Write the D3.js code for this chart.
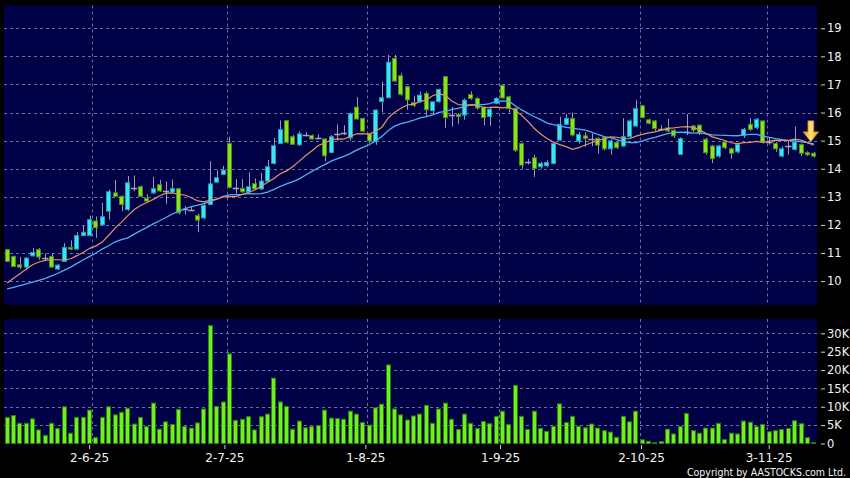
<!DOCTYPE html>
<html>
<head>
<meta charset="utf-8">
<script src="https://cdn.jsdelivr.net/npm/d3@7"></script>
<style>
  body { margin: 0; background: #000; }
  svg { display: block; }
</style>
</head>
<body>
<svg id="chart" width="850" height="478"></svg>
<script>
// daily candles, oldest first (HKD)
var opens = [11.12,10.88,10.58,10.50,10.90,11.12,10.83,10.88,10.43,10.70,
  11.20,11.14,11.62,11.62,12.14,12.00,12.49,13.14,13.02,12.55,
  13.32,13.36,12.95,13.14,13.43,13.20,13.17,13.29,12.55,12.52,
  12.33,12.25,12.73,13.52,13.80,14.90,13.30,13.30,13.18,13.47,
  13.28,13.56,14.19,14.90,15.71,15.14,14.85,15.20,15.18,15.10,
  15.06,14.58,15.24,15.26,15.10,16.19,15.79,15.24,14.96,16.39,
  16.53,17.93,17.31,16.92,16.35,16.39,16.68,16.07,16.39,17.28,
  15.90,15.93,15.91,16.64,16.50,16.19,15.86,16.33,16.97,16.56,
  16.15,14.90,14.25,14.39,14.07,14.11,14.19,15.02,15.58,15.79,
  14.98,15.17,15.05,15.08,15.11,14.71,14.93,14.81,15.14,15.52,
  16.24,15.74,15.70,15.42,15.45,15.37,14.51,15.30,15.52,15.55,
  15.05,14.81,14.45,14.95,14.71,14.60,15.19,15.58,15.46,15.70,
  14.95,14.90,14.45,14.81,14.69,14.86,14.57,14.55];
var highs = [11.15,10.90,10.86,10.86,11.18,11.18,10.98,11.00,10.60,11.35,
  11.45,11.74,11.98,12.33,12.30,12.79,13.26,13.60,13.05,13.74,
  13.76,13.40,13.10,13.71,13.60,13.55,13.62,13.30,12.67,12.64,
  12.40,12.75,14.27,13.95,14.10,15.14,13.63,13.63,13.87,13.66,
  13.85,14.31,15.10,15.72,15.72,15.20,15.33,15.30,15.22,15.22,
  15.08,15.20,15.58,15.55,16.00,16.55,15.82,15.26,16.10,17.10,
  18.05,18.05,17.40,16.95,16.60,16.75,16.75,16.40,16.85,17.30,
  16.20,15.98,16.50,16.75,16.55,16.20,16.20,16.55,17.00,16.60,
  16.18,14.92,14.35,14.50,14.25,14.30,14.95,15.85,15.95,16.00,
  15.30,15.30,15.25,15.12,15.15,15.05,14.98,15.80,15.75,16.44,
  16.28,15.78,15.73,15.55,15.78,15.40,15.12,15.95,15.55,15.58,
  15.10,14.85,14.85,15.00,14.75,14.90,15.45,15.80,15.80,15.72,
  15.10,14.95,14.80,15.00,15.50,14.90,14.62,14.60];
var lows = [10.68,10.50,10.43,10.40,10.88,10.76,10.72,10.48,10.40,10.68,
  11.10,11.12,11.60,11.60,11.54,11.98,12.19,13.00,12.49,12.50,
  13.20,13.00,12.80,13.10,13.18,12.75,13.15,12.37,12.37,12.50,
  11.74,12.20,12.70,13.50,13.78,13.30,13.12,13.15,13.15,13.25,
  13.25,13.54,14.15,14.88,14.90,14.85,14.82,15.15,15.04,15.05,
  14.27,14.55,15.00,15.20,15.00,15.75,15.30,14.90,14.85,16.00,
  16.50,17.10,16.60,16.10,16.20,16.35,15.85,15.95,16.35,15.46,
  15.50,15.60,15.75,16.45,16.10,15.55,15.53,16.30,16.50,16.00,
  14.60,14.00,14.15,13.71,14.00,14.05,14.15,15.00,15.55,15.15,
  14.90,14.78,14.80,14.54,14.65,14.50,14.70,14.78,15.10,15.50,
  15.80,15.58,15.35,15.35,15.30,15.10,14.50,15.20,15.30,15.20,
  14.50,14.20,14.40,14.70,14.35,14.55,15.10,15.35,15.40,14.90,
  14.85,14.60,14.40,14.50,14.65,14.45,14.45,14.40];
var closes = [10.70,10.52,10.50,10.82,11.02,10.86,10.83,10.50,10.57,11.20,
  11.14,11.62,11.74,12.19,11.90,12.29,13.18,13.02,12.73,13.50,
  13.32,13.02,12.85,13.29,13.21,13.20,13.29,12.43,12.55,12.52,
  12.17,12.69,13.46,13.68,13.95,13.34,13.30,13.18,13.36,13.28,
  13.56,14.07,14.82,15.39,14.94,14.87,15.24,15.20,15.06,15.10,
  14.46,15.14,15.24,15.26,15.96,15.77,15.34,14.99,16.09,16.53,
  17.79,17.12,16.65,16.45,16.26,16.62,16.10,16.38,16.82,15.82,
  15.90,15.86,16.44,16.50,16.16,15.82,16.12,16.50,16.52,16.14,
  14.66,14.13,14.25,14.01,14.19,14.22,14.90,15.58,15.79,15.20,
  15.22,15.08,15.05,14.84,14.71,14.99,14.75,15.14,15.70,16.14,
  15.82,15.62,15.43,15.42,15.35,15.17,15.07,15.30,15.38,15.29,
  14.57,14.36,14.81,14.75,14.55,14.87,15.40,15.40,15.76,14.95,
  14.95,14.71,14.71,14.81,14.95,14.55,14.50,14.45];

// volume in thousands of shares
var volumes = [7.1,7.6,5.5,5.5,6.7,3.7,2.2,5.5,4.1,10.0,
  2.8,7.1,7.1,9.1,1.6,7.1,10.0,7.8,8.5,9.6,
  5.3,7.1,4.6,11.0,3.9,5.9,5.2,9.3,4.6,4.2,
  5.6,9.4,32.1,10.1,11.3,24.4,6.3,6.6,7.3,3.7,
  7.3,8.0,17.8,11.3,10.1,3.9,6.1,4.3,4.6,4.9,
  9.1,6.9,6.8,6.6,8.8,8.0,5.7,5.0,9.7,10.7,
  21.4,9.4,7.8,6.4,7.5,8.0,10.4,5.5,9.4,11.0,
  6.6,3.8,8.0,5.5,4.1,6.0,5.4,7.4,8.8,5.2,
  15.8,7.4,3.8,8.8,4.1,3.3,4.7,10.8,5.7,7.4,
  4.7,4.3,5.3,4.2,3.5,3.1,1.7,7.4,5.9,8.8,
  1.0,0.6,0.2,0.5,3.9,2.6,4.6,8.2,3.5,2.8,
  4.2,4.2,5.5,1.1,2.8,2.6,6.1,5.8,4.6,5.2,
  3.2,3.5,3.8,4.1,6.2,5.4,1.6,0.2];

var ma10Head = [9.93,10.10,10.26,10.42,10.58,10.68,10.74,10.76,10.76];
var ma20Head = [9.72,9.78,9.84,9.90,9.96,10.03,10.10,10.19,10.28,10.39,
  10.50,10.63,10.76,10.88,11.00,11.15,11.26,11.40,11.48];

var priceTicks = [10,11,12,13,14,15,16,17,18,19];
var volTicks = [0,5,10,15,20,25,30];
var dateLabels = ["2-6-25","2-7-25","1-8-25","1-9-25","2-10-25","3-11-25"];
var dateIdx = [12.9, 34.2, 56.4, 77.6, 99.8, 119.9];
var gridIdx = [13.4, 34.6, 56.6, 77.5, 99.6, 119.6];

var svg = d3.select("#chart");
var panelBg = "#000046",
    gridColor = "#6e6e9e",
    upColor = "#3ae6f5", upEdge = "#1d9fb0",
    downColor = "#86e51e", downEdge = "#4d8f12",
    wickColor = "#9a9ab0";

var n = closes.length;
var x = d3.scaleLinear().domain([-0.5, n - 0.5]).range([4, 817]);
var y = d3.scaleLinear().domain([9.15, 19.81]).range([305, 5.5]);
var yv = d3.scaleLinear().domain([0, 33.9]).range([443.5, 319]);
var step = x(1) - x(0), bw = step * 0.82;

// moving averages
function sma(len, head) {
  return closes.map(function(c, i) {
    if (i < len - 1) return head[i];
    return d3.mean(closes.slice(i - len + 1, i + 1));
  });
}
var ma10 = sma(10, ma10Head), ma20 = sma(20, ma20Head);

// panels
svg.append("rect").attr("x", 4).attr("y", 5.5).attr("width", 813).attr("height", 299.5).attr("fill", panelBg);
svg.append("rect").attr("x", 4).attr("y", 319).attr("width", 813).attr("height", 124.5).attr("fill", panelBg);

var grid = svg.append("g").attr("stroke", gridColor).attr("stroke-width", 1)
  .attr("stroke-dasharray", "3,3").attr("fill", "none");
grid.selectAll(".hp").data(priceTicks).enter().append("line")
  .attr("x1", 4).attr("x2", 817)
  .attr("y1", function(d) { return Math.round(y(d)) + 0.5; })
  .attr("y2", function(d) { return Math.round(y(d)) + 0.5; });
grid.selectAll(".hv").data(volTicks.slice(1)).enter().append("line")
  .attr("x1", 4).attr("x2", 817)
  .attr("y1", function(d) { return Math.round(yv(d)) + 0.5; })
  .attr("y2", function(d) { return Math.round(yv(d)) + 0.5; });
gridIdx.forEach(function(d) {
  var gx = Math.round(x(d)) + 0.5;
  grid.append("line").attr("x1", gx).attr("x2", gx).attr("y1", 5.5).attr("y2", 305);
  grid.append("line").attr("x1", gx).attr("x2", gx).attr("y1", 319).attr("y2", 443.5);
});

// candles
var idx = d3.range(n);
var cg = svg.append("g");
cg.selectAll(".wick").data(idx).enter().append("line")
  .attr("x1", function(i) { return Math.round(x(i)) + 0.5; })
  .attr("x2", function(i) { return Math.round(x(i)) + 0.5; })
  .attr("y1", function(i) { return y(highs[i]); })
  .attr("y2", function(i) { return y(lows[i]); })
  .attr("stroke", wickColor).attr("stroke-width", 1);

cg.selectAll(".body").data(idx.filter(function(i) { return opens[i] !== closes[i]; })).enter().append("rect")
  .attr("x", function(i) { return Math.round(x(i) - bw / 2) + 0.5; })
  .attr("width", Math.round(bw) - 1)
  .attr("y", function(i) { return y(Math.max(opens[i], closes[i])); })
  .attr("height", function(i) { return Math.max(1.5, Math.abs(y(opens[i]) - y(closes[i]))); })
  .attr("fill", function(i) { return closes[i] > opens[i] ? upColor : downColor; })
  .attr("stroke", function(i) { return closes[i] > opens[i] ? upEdge : downEdge; })
  .attr("stroke-width", 1);

cg.selectAll(".doji").data(idx.filter(function(i) { return opens[i] === closes[i]; })).enter().append("line")
  .attr("x1", function(i) { return x(i) - bw / 2 - 0.5; })
  .attr("x2", function(i) { return x(i) + bw / 2 + 0.5; })
  .attr("y1", function(i) { return Math.round(y(closes[i])) + 0.5; })
  .attr("y2", function(i) { return Math.round(y(closes[i])) + 0.5; })
  .attr("stroke", "#a8a8b8").attr("stroke-width", 1.5);

// moving average lines
var line = d3.line().x(function(d, i) { return x(i); }).y(function(d) { return y(d); });
svg.append("path").datum(ma20).attr("d", line).attr("fill", "none")
  .attr("stroke", "#4fb0ee").attr("stroke-width", 1.3);
svg.append("path").datum(ma10).attr("d", line).attr("fill", "none")
  .attr("stroke", "#e39463").attr("stroke-width", 1.2);

// volume bars
svg.append("g").selectAll("rect").data(volumes).enter().append("rect")
  .attr("x", function(d, i) { return Math.round(x(i) - bw / 2) + 0.5; })
  .attr("width", Math.round(bw) - 1)
  .attr("y", function(d) { return yv(d); })
  .attr("height", function(d) { return yv(0) - yv(d); })
  .attr("fill", "#6cf020").attr("stroke", "#2f7d0a").attr("stroke-width", 1);

// latest marker arrow
var defs = svg.append("defs");
var grad = defs.append("linearGradient").attr("id", "arrowGrad");
grad.append("stop").attr("offset", "0%").attr("stop-color", "#e29a00");
grad.append("stop").attr("offset", "50%").attr("stop-color", "#ffe27a");
grad.append("stop").attr("offset", "100%").attr("stop-color", "#e29a00");
var ax = x(n - 1) - 3, tip = y(ma20[n - 1]) - 2;
svg.append("path")
  .attr("d", "M" + (ax - 3) + "," + (tip - 21) + "h6v11h5l-8,10l-8,-10h5z")
  .attr("fill", "url(#arrowGrad)").attr("stroke", "#c07800").attr("stroke-width", 0.6);

// axes
var axisFont = "'DejaVu Sans', Verdana, sans-serif";
function styleAxis(g, size) {
  g.select(".domain").remove();
  g.selectAll("line").attr("stroke", "#cfcfcf");
  g.selectAll("text").attr("fill", "#f2f2f2").style("font-family", axisFont).style("font-size", size);
}
svg.append("g").attr("transform", "translate(821,0)")
  .call(d3.axisRight(y).tickValues(priceTicks).tickSize(4).tickPadding(2).tickFormat(d3.format("d")))
  .call(styleAxis, "11.5px");
svg.append("g").attr("transform", "translate(821,0)")
  .call(d3.axisRight(yv).tickValues(volTicks).tickSize(4).tickPadding(2)
    .tickFormat(function(d) { return d === 0 ? "0" : d + "K"; }))
  .call(styleAxis, "11.5px");
svg.append("g").attr("transform", "translate(0,445)")
  .call(d3.axisBottom(x).tickValues(dateIdx).tickSize(4).tickPadding(4)
    .tickFormat(function(d, i) { return dateLabels[i]; }))
  .call(styleAxis, "12px");

svg.append("text").attr("x", 846).attr("y", 475.5).attr("text-anchor", "end")
  .attr("fill", "#f2f2f2").style("font-family", "'DejaVu Sans Condensed', 'DejaVu Sans', sans-serif")
  .style("font-size", "10px")
  .attr("textLength", 159).attr("lengthAdjust", "spacingAndGlyphs")
  .text("Copyright by AASTOCKS.com Ltd.");
</script>
</body>
</html>
